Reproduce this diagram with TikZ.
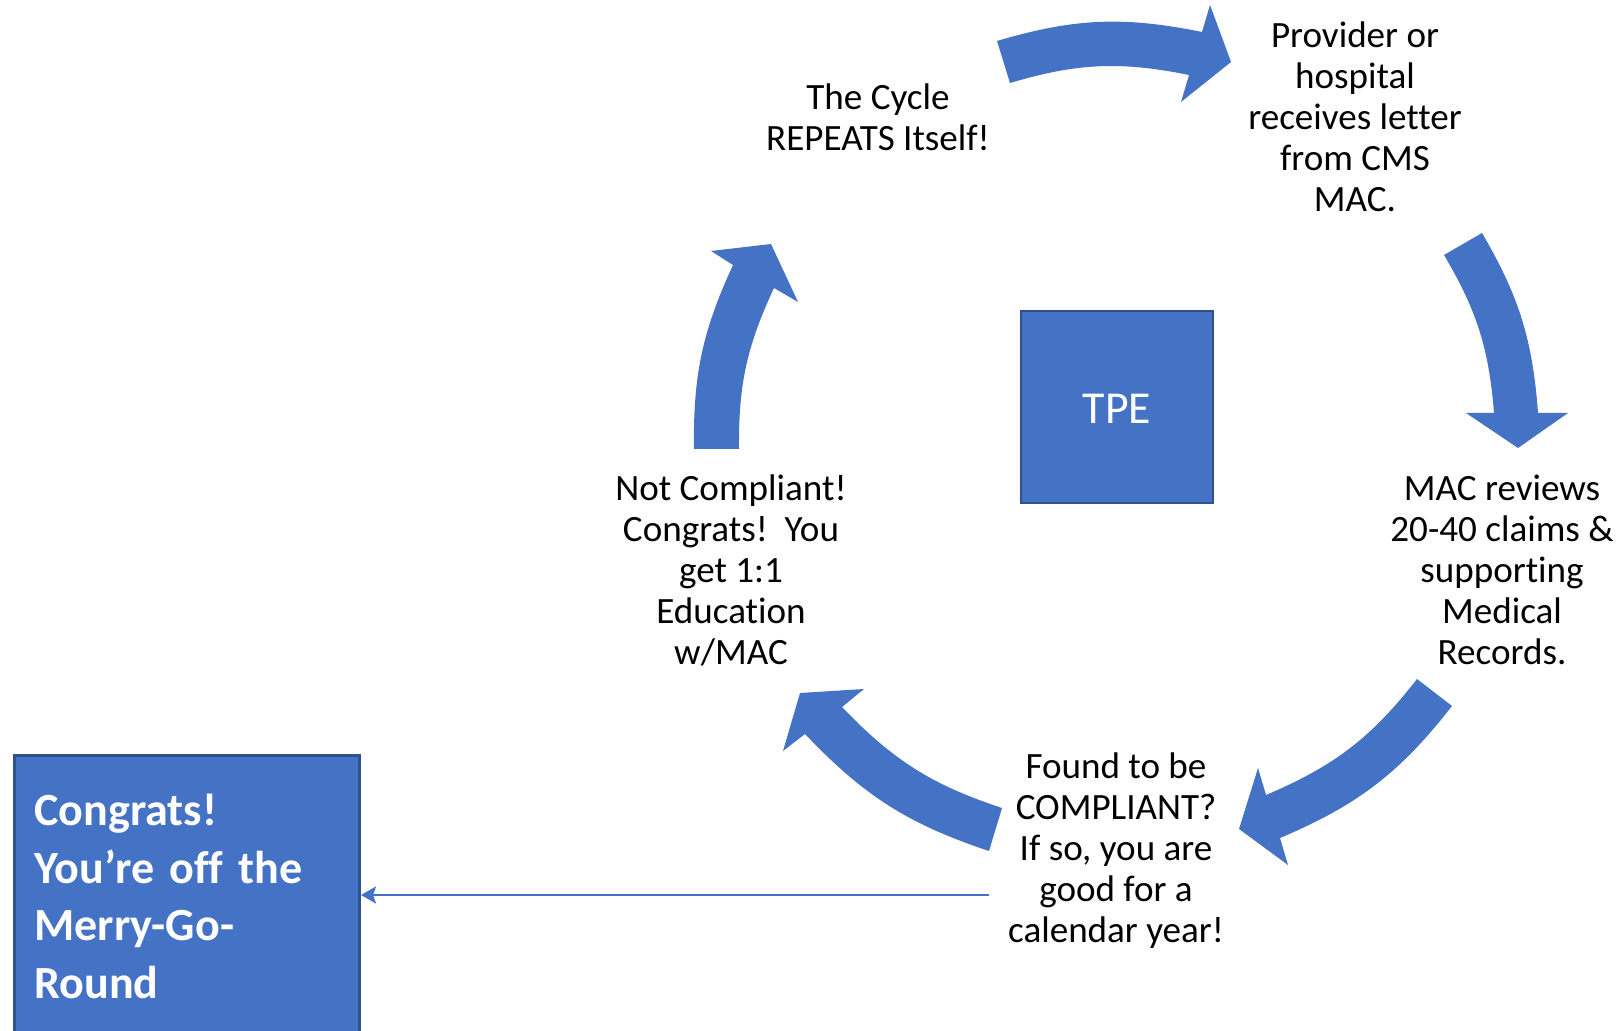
\documentclass[tikz,border=0pt]{standalone}
\usepackage{fontspec}
\setmainfont[Ligatures=CommonOff]{Carlito}
\usetikzlibrary{arrows.meta}
\definecolor{office}{HTML}{4472C4}
\definecolor{officedark}{HTML}{2F528F}
\begin{document}
\begin{tikzpicture}[x=0.01cm,y=-0.01cm,
  cyclearrow/.style={fill=office, draw=none},
  steptext/.style={align=center, font=\fontsize{10.55}{11.67}\selectfont, inner sep=0pt},
  bluebox/.style={fill=office, draw=officedark, line width=0.8pt, text=white},
  exitline/.style={draw=office, line width=0.6pt, -{Stealth[length=0.15cm, width=0.17cm, inset=0.03cm]}},
]
\useasboundingbox (0,0) rectangle (1619,1031);
\clip (0,0) rectangle (1619,1031);

% curved arrows of the cycle, each running clockwise
\fill[cyclearrow] (997,41) to[bend left=14] (1202,32) -- (1210,5) -- (1231,62)
  -- (1181,102) -- (1189,75) to[bend right=14] (1010,83) -- cycle;
\fill[cyclearrow] (1482,233) to[bend left=13] (1538,413) -- (1568,413) -- (1518,448)
  -- (1466,413) -- (1494,413) to[bend right=13] (1444,255) -- cycle;
\fill[cyclearrow] (1452,706) to[bend left=14.5] (1280,838) -- (1288,865) -- (1239,829)
  -- (1258,768) -- (1266,795) to[bend right=14.5] (1417,679) -- cycle;
\fill[cyclearrow] (989,851) to[bend left=14] (805,734) -- (783,751) -- (800,693)
  -- (864,689) -- (842,707) to[bend right=14] (1002,808) -- cycle;
\fill[cyclearrow] (694,449) to[bend left=12.8] (733,265) -- (711,251) -- (771,244)
  -- (798,302) -- (774,288) to[bend right=12.8] (739,449) -- cycle;

% step labels around the cycle
\node[steptext] (provider) at (1355,117) {Provider or\\hospital\\receives letter\\from CMS\\MAC.};
\node[steptext] (reviews) at (1502,570) {MAC reviews\\20-40 claims \&\\supporting\\Medical\\Records.};
\node[steptext] (found) at (1116,851) {Found to be\\COMPLIANT?\\If so, you are\\good for a\\calendar year!};
\node[steptext] (notcompliant) at (731,570) {Not Compliant!\\Congrats!\ \ You\\get 1:1\\Education\\w/MAC};
\node[steptext] (repeats) at (878,117) {The Cycle\\REPEATS Itself!};

% centre box
\node[bluebox, minimum width=1.92cm, minimum height=1.92cm,
  text height=0.335cm, text depth=0cm,
  font=\fontsize{13}{15.9}\selectfont] (tpe) at (1117,407) {TPE};

% exit box
\node[bluebox, anchor=north west, minimum width=3.45cm, minimum height=2.82cm,
  text width=3.05cm, inner xsep=0.2cm, align=left,
  font=\fontsize{13.1}{16.4}\selectfont\bfseries] (congrats) at (13,754)
  {Congrats!\\You’re off the\\Merry-Go-\\Round};

\coordinate (exitstart) at (989,895);
\draw[exitline] (exitstart) -- (exitstart -| congrats.east);
\end{tikzpicture}
\end{document}
